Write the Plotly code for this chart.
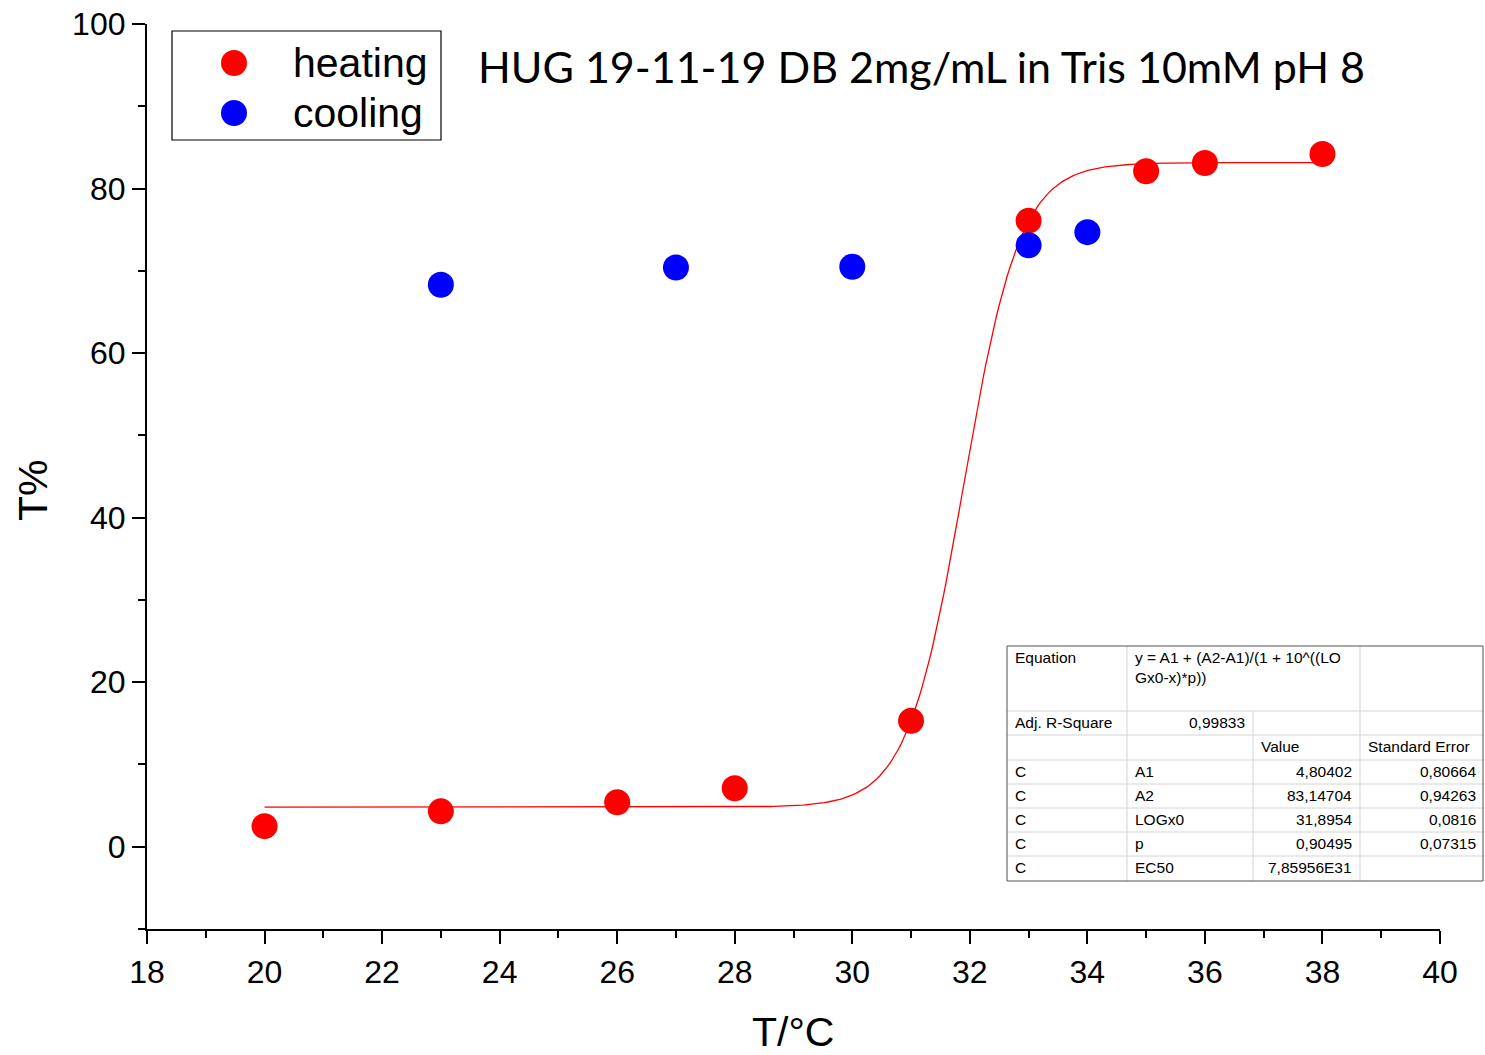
import numpy as np
import plotly.graph_objects as go

# ---------------- data ----------------
heat_x = [20, 23, 26, 28, 31, 33, 35, 36, 38]
heat_y = [2.5, 4.3, 5.4, 7.1, 15.3, 76.1, 82.1, 83.1, 84.2]
cool_x = [23, 27, 30, 33, 34]
cool_y = [68.3, 70.4, 70.5, 73.1, 74.7]

# fit parameters (from the table in the chart)
A1 = 4.80402
A2 = 83.14704
LOGx0 = 31.8954
P = 0.90495
fit_range = [20, 38]

x_ticks = list(range(18, 41, 2))
y_ticks = list(range(0, 101, 20))

table_rows = [
    ["Equation", "y = A1 + (A2-A1)/(1 + 10^((LO<br>Gx0-x)*p))", "", ""],
    ["Adj. R-Square", "0,99833", "", ""],
    ["", "", "Value", "Standard Error"],
    ["C", "A1", "4,80402", "0,80664"],
    ["C", "A2", "83,14704", "0,94263"],
    ["C", "LOGx0", "31,8954", "0,0816"],
    ["C", "p", "0,90495", "0,07315"],
    ["C", "EC50", "7,85956E31", ""],
]

title_text = "HUG 19-11-19 DB 2mg/mL in Tris 10mM pH 8"

# ---------------- layout geometry ----------------
W, H = 1485, 1055
L, R, T, B = 147, 1440, 24, 929


def px(xp):
    return (xp - L) / (R - L)


def py(yp):
    return (B - yp) / (B - T)


fit_x = np.linspace(fit_range[0], fit_range[1], 400)
fit_y = A1 + (A2 - A1) / (1 + 10 ** ((LOGx0 - fit_x) * P))

fig = go.Figure()
fig.add_trace(go.Scatter(x=fit_x, y=fit_y, mode="lines",
                         line=dict(color="#ff0000", width=1.3),
                         showlegend=False, hoverinfo="skip"))
fig.add_trace(go.Scatter(x=heat_x, y=heat_y, mode="markers", name="heating",
                         marker=dict(color="#ff0000", size=26, line=dict(width=0))))
fig.add_trace(go.Scatter(x=cool_x, y=cool_y, mode="markers", name="cooling",
                         marker=dict(color="#0000ff", size=26, line=dict(width=0))))

shapes = []
annotations = []

# ---- manual legend ----
shapes.append(dict(type="rect", xref="paper", yref="paper",
                   x0=px(172), x1=px(441), y0=py(140), y1=py(31),
                   line=dict(color="black", width=1.2), fillcolor="white", layer="above"))
for cy, col, lab in [(63, "#ff0000", "heating"), (113, "#0000ff", "cooling")]:
    shapes.append(dict(type="circle", xref="paper", yref="paper",
                       x0=px(221), x1=px(247), y0=py(cy + 13), y1=py(cy - 13),
                       line=dict(width=0), fillcolor=col, layer="above"))
    annotations.append(dict(xref="paper", yref="paper", x=px(291), y=py(cy),
                            xanchor="left", yanchor="middle", text=lab, showarrow=False,
                            font=dict(family="Liberation Sans, Arial", size=41, color="black")))

# ---- title ----
annotations.append(dict(xref="paper", yref="paper", x=px(922), y=py(67),
                        xanchor="center", yanchor="middle", text=title_text, showarrow=False,
                        font=dict(family="Lato, Open Sans", size=43, color="black")))

# ---- axis titles ----
annotations.append(dict(xref="paper", yref="paper", x=px(793), y=py(1032),
                        xanchor="center", yanchor="middle", text="T/°C", showarrow=False,
                        borderpad=0,
                        font=dict(family="Liberation Sans, Arial", size=41, color="black")))
annotations.append(dict(xref="paper", yref="paper", x=px(33), y=py(490),
                        xanchor="center", yanchor="middle", text="T%", showarrow=False,
                        textangle=-90,
                        font=dict(family="Liberation Sans, Arial", size=41, color="black")))

# ---- fit table ----
col_x = [1007, 1127, 1253, 1360, 1484]
row_y = [646, 711, 735, 760, 784, 808, 832, 856, 881]
grid = "#d4d4d4"
shapes.append(dict(type="rect", xref="paper", yref="paper",
                   x0=px(col_x[0]), x1=px(col_x[-1]), y0=py(row_y[-1]), y1=py(row_y[0]),
                   line=dict(width=0), fillcolor="white", layer="above"))
for yy in row_y[1:-1]:
    shapes.append(dict(type="line", xref="paper", yref="paper",
                       x0=px(col_x[0]), x1=px(col_x[-1]), y0=py(yy), y1=py(yy),
                       line=dict(color=grid, width=1), layer="above"))
for ci, xx in enumerate(col_x[1:-1], start=1):
    top = row_y[0]
    if ci == 2:
        top = row_y[1]  # equation spans columns 2-3
    shapes.append(dict(type="line", xref="paper", yref="paper",
                       x0=px(xx), x1=px(xx), y0=py(row_y[-1]), y1=py(top),
                       line=dict(color=grid, width=1), layer="above"))
shapes.append(dict(type="rect", xref="paper", yref="paper",
                   x0=px(col_x[0]), x1=px(col_x[-1] - 1), y0=py(row_y[-1]), y1=py(row_y[0]),
                   line=dict(color="#505050", width=1), fillcolor="rgba(0,0,0,0)", layer="above"))

tfont = dict(family="Liberation Sans, Arial", size=15.5, color="black")
right_align = {(1, 1), (3, 2), (3, 3), (4, 2), (4, 3), (5, 2), (5, 3), (6, 2), (6, 3), (7, 2)}
for ri, row in enumerate(table_rows):
    for ci, txt in enumerate(row):
        if not txt:
            continue
        if ri == 0:
            yv, ya = py(row_y[0] + 1), "top"
        else:
            yv, ya = py((row_y[ri] + row_y[ri + 1]) / 2 - 1), "middle"
        if (ri, ci) in right_align:
            xv, xa = px(col_x[ci + 1] - 6), "right"
        else:
            xv, xa = px(col_x[ci] + 6), "left"
        annotations.append(dict(xref="paper", yref="paper", x=xv, y=yv,
                                xanchor=xa, yanchor=ya, text=txt, showarrow=False,
                                align="left", font=tfont))

axis_common = dict(showline=True, linecolor="black", linewidth=2.2, mirror=False,
                   showgrid=False, zeroline=False, ticks="outside", ticklen=13,
                   tickwidth=2, tickcolor="black", automargin=False,
                   tickfont=dict(family="Liberation Sans, Arial", size=32, color="black"))

fig.update_layout(
    width=W, height=H,
    margin=dict(l=L, r=W - R, t=T, b=H - B, autoexpand=False),
    paper_bgcolor="white", plot_bgcolor="white",
    showlegend=False,
    shapes=shapes, annotations=annotations,
    xaxis=dict(range=[18, 40], tickvals=x_ticks, ticktext=[str(v) for v in x_ticks],
               minor=dict(dtick=1, ticks="outside", ticklen=7, tickwidth=2, tickcolor="black"),
               **axis_common),
    yaxis=dict(range=[-10, 100], tickvals=y_ticks, ticktext=[str(v) for v in y_ticks],
               minor=dict(tick0=0, dtick=10, ticks="outside", ticklen=7, tickwidth=2, tickcolor="black"),
               **axis_common),
)

fig.write_html("out.html", config={"displayModeBar": False},
               post_script="document.body.style.margin='0';document.body.style.overflow='hidden';")
